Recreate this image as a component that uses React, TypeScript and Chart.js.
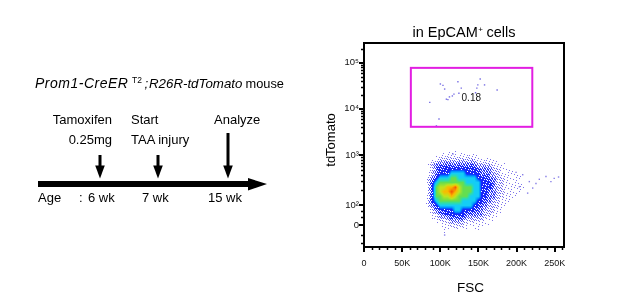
import React, { useEffect, useRef } from 'react';
import { Chart, registerables } from 'chart.js';

Chart.register(...registerables);

const FONT = "'Liberation Sans', Arial, Helvetica, sans-serif";

// ---------------- timeline schematic ----------------
const strainParts = ['Prom1-CreER', 'T2', ';', 'R26R-tdTomato', 'mouse'];
const eventTitles = ['Tamoxifen', 'Start', 'Analyze'];
const eventSubtitles = ['0.25mg', 'TAA injury', ''];
const ageLabels = ['6 wk', '7 wk', '15 wk'];

// ---------------- flow plot axes ----------------
const plotTitle = ['in EpCAM', '+', ' cells'];
const xAxisTitle = 'FSC';
const yAxisTitle = 'tdTomato';

const fscMax = 262144;
const fscTickValues = [0, 50000, 100000, 150000, 200000, 250000];
const fscTickLabels = ['0', '50K', '100K', '150K', '200K', '250K'];
const fscMinorTicks = [10000, 20000, 30000, 40000, 60000, 70000, 80000, 90000, 110000, 120000, 130000, 140000,
  160000, 170000, 180000, 190000, 210000, 220000, 230000, 240000, 260000];

// tdTomato in display units of the biexponential scale
const tdMin = 1.0;
const tdMax = 5.43;
const tdTickValues = [1.48, 1.91, 3, 4, 5];
const tdTickLabels = ['0', '10²', '10³', '10⁴', '10⁵'];
const tdLinearMinorTicks = [1.08, 1.27, 1.65, 1.79];

// ---------------- density of the main population ----------------
const densityFscK = [80, 85, 90, 95, 100, 105, 110, 115, 120, 125, 130, 135, 140, 145, 150, 155, 160, 165,
  170, 175, 180, 185, 190, 195, 200, 205, 210, 215, 220, 225, 230, 235, 240, 245, 250, 255];
const densityTd = [3.1, 3.0, 2.9, 2.8, 2.7, 2.6, 2.5, 2.4, 2.3, 2.2, 2.1, 2.0, 1.9, 1.8, 1.7, 1.6, 1.5, 1.4, 1.3];
// level 0 (empty) .. 9 (highest density), one char per FSC bin
const densityRows = [
  '000000111000000000000000000000000000',
  '000111111111111001000000000000000000',
  '001122222222221111100000000000000000',
  '012333333333332222111100000000000000',
  '012344444444443333221110000000000000',
  '012344455554444333221111100000000000',
  '023455566555554443322111110000000000',
  '024566666665555444322111110000000000',
  '024677889766655444322111111000000000',
  '024678898766655443322111110000000000',
  '024667787666555443322111100000000000',
  '024566666655554433221110000000000000',
  '023455555555544332221100000000000000',
  '012344445544443322211000000000000000',
  '001233444443333322110000000000000000',
  '001122233332222211100000000000000000',
  '000011122221111111000000000000000000',
  '000001111111011000000000000000000000',
  '000001000000000000000000000000000000',
];

// individual sparse events (FSC in K, tdTomato display units)
const gateEventsFscK = [100.1, 103.5, 105.7, 108.0, 115.8, 117.9, 123.1, 124.4, 127.5, 146.2, 147.9, 149.2,
  152.3, 158.0, 174.5, 86.2, 98.3, 94.9, 110.0, 112.0];
const gateEventsTd = [4.54, 4.51, 4.43, 4.21, 4.28, 4.32, 4.59, 4.34, 4.45, 4.35, 4.45, 4.52,
  4.65, 4.52, 4.41, 4.14, 3.78, 3.63, 4.20, 4.26];
const tailEventsFscK = [208.0, 216.7, 225.4, 229.8, 238.5, 245.0, 249.3, 255.0, 221.1, 214.5, 203.7, 199.3, 116.6, 105.7];
const tailEventsTd = [2.57, 2.42, 2.38, 2.47, 2.53, 2.42, 2.49, 2.52, 2.28, 2.17, 2.31, 2.62, 3.02, 1.26];

// gate
const gateFsc = [61400, 220600];
const gateTd = [3.61, 4.89];
const gateFrequency = '0.18';
const gateLabelFsc = 140600;
const gateLabelTd = 4.22;

// ---------------- rendering helpers ----------------
const SOLID = 4.2;
const colorStops: [number, number[]][] = [
  [SOLID, [10, 50, 255]], [4.6, [0, 150, 255]], [5.0, [20, 205, 245]],
  [5.6, [50, 222, 160]], [6.0, [100, 222, 80]], [7.0, [190, 228, 30]], [8.0, [250, 185, 0]], [9.0, [245, 80, 5]],
];
const fillStops: [number, number][] = [[0, 0], [0.5, 0], [1, 0.1], [2, 0.3], [3, 0.55], [SOLID, 0.9]];

function lerp(a: number, b: number, t: number) { return a + (b - a) * t; }

function colorFor(L: number): number[] {
  if (L <= colorStops[0][0]) return colorStops[0][1];
  for (let i = 0; i < colorStops.length - 1; i++) {
    const [a, ca] = colorStops[i];
    const [b, cb] = colorStops[i + 1];
    if (L <= b) {
      const t = (L - a) / (b - a);
      return [lerp(ca[0], cb[0], t), lerp(ca[1], cb[1], t), lerp(ca[2], cb[2], t)];
    }
  }
  return colorStops[colorStops.length - 1][1];
}

function fillFor(L: number): number {
  for (let i = 0; i < fillStops.length - 1; i++) {
    const [a, fa] = fillStops[i];
    const [b, fb] = fillStops[i + 1];
    if (L <= b) return lerp(fa, fb, (L - a) / (b - a));
  }
  return 1;
}

function fracIndex(pos: number[], p: number): number | null {
  for (let i = 0; i < pos.length - 1; i++) {
    const a = pos[i], b = pos[i + 1];
    if (p >= Math.min(a, b) && p <= Math.max(a, b)) return i + (p - a) / (b - a);
  }
  return null;
}

function drawDensity(chart: any) {
  const { ctx, scales } = chart;
  const xs: number[] = densityFscK.map((k) => scales.x.getPixelForValue(k * 1000));
  const ys: number[] = densityTd.map((v) => scales.y.getPixelForValue(v));
  const grid = densityRows.map((r) => r.split('').map(Number));
  const x0 = Math.floor(Math.min(...xs)), x1 = Math.ceil(Math.max(...xs));
  const y0 = Math.floor(Math.min(...ys)), y1 = Math.ceil(Math.max(...ys));
  const w = x1 - x0 + 1, h = y1 - y0 + 1;
  const off = document.createElement('canvas');
  off.width = w; off.height = h;
  const octx = off.getContext('2d')!;
  const img = octx.createImageData(w, h);
  for (let py = 0; py < h; py++) {
    const fr = fracIndex(ys, y0 + py + 0.5);
    if (fr === null) continue;
    const r0 = Math.floor(fr), r1 = Math.min(r0 + 1, ys.length - 1), tr = fr - r0;
    for (let px = 0; px < w; px++) {
      const fc = fracIndex(xs, x0 + px + 0.5);
      if (fc === null) continue;
      const c0 = Math.floor(fc), c1 = Math.min(c0 + 1, xs.length - 1), tc = fc - c0;
      const L = lerp(lerp(grid[r0][c0], grid[r0][c1], tc), lerp(grid[r1][c0], grid[r1][c1], tc), tr);
      if (L < 0.5) continue;
      const idx = (py * w + px) * 4;
      let col: number[];
      if (L < SOLID) {
        // ordered (interleaved-gradient) dithering turns low density into sparse dots
        const X = x0 + px, Y = y0 + py;
        const n = (52.9829189 * ((0.06711056 * X + 0.00583715 * Y) % 1)) % 1;
        if (n >= fillFor(L)) continue;
        const t = Math.max(0, Math.min(1, (L - 1.5) / 1.8));
        col = [lerp(125, 25, t), lerp(115, 40, t), lerp(235, 250, t)];
      } else {
        col = colorFor(L);
      }
      img.data[idx] = col[0]; img.data[idx + 1] = col[1]; img.data[idx + 2] = col[2]; img.data[idx + 3] = 255;
    }
  }
  octx.putImageData(img, 0, 0);
  ctx.drawImage(off, x0, y0);
}

const flowPlugin = {
  id: 'flowDecor',
  beforeDatasetsDraw(chart: any) {
    const { ctx, chartArea } = chart;
    ctx.save();
    ctx.beginPath();
    ctx.rect(chartArea.left, chartArea.top, chartArea.right - chartArea.left, chartArea.bottom - chartArea.top);
    ctx.clip();
    drawDensity(chart);
    ctx.restore();
  },
  afterDatasetsDraw(chart: any) {
    const { ctx, chartArea, scales } = chart;
    const { x, y } = scales;
    ctx.save();
    // gate
    const gl = x.getPixelForValue(gateFsc[0]), gr = x.getPixelForValue(gateFsc[1]);
    const gt = y.getPixelForValue(gateTd[1]), gb = y.getPixelForValue(gateTd[0]);
    ctx.strokeStyle = '#e21ee2';
    ctx.lineWidth = 2;
    ctx.strokeRect(gl, gt, gr - gl, gb - gt);
    ctx.fillStyle = '#111';
    ctx.font = `10px ${FONT}`;
    ctx.textAlign = 'center';
    ctx.textBaseline = 'middle';
    ctx.fillText(gateFrequency, x.getPixelForValue(gateLabelFsc), y.getPixelForValue(gateLabelTd));

    // frame
    ctx.strokeStyle = '#000';
    ctx.lineWidth = 2;
    ctx.strokeRect(chartArea.left, chartArea.top, chartArea.right - chartArea.left, chartArea.bottom - chartArea.top);

    // tick marks
    ctx.lineCap = 'butt';
    const tickX = (v: number, len: number, lw: number) => {
      const p = Math.round(x.getPixelForValue(v)) + (lw % 2 ? 0.5 : 0);
      ctx.lineWidth = lw;
      ctx.beginPath(); ctx.moveTo(p, chartArea.bottom); ctx.lineTo(p, chartArea.bottom + len); ctx.stroke();
    };
    const tickY = (v: number, len: number, lw: number) => {
      const p = Math.round(y.getPixelForValue(v)) + (lw % 2 ? 0.5 : 0);
      ctx.lineWidth = lw;
      ctx.beginPath(); ctx.moveTo(chartArea.left, p); ctx.lineTo(chartArea.left - len, p); ctx.stroke();
    };
    fscTickValues.forEach((v) => tickX(v, 5, 2));
    fscMinorTicks.forEach((v) => tickX(v, 3, 1.5));
    tdTickValues.forEach((v) => tickY(v, 5, 2));
    tdLinearMinorTicks.forEach((v) => tickY(v, 3, 1.5));
    for (let d = 1; d < tdTickValues.length; d++) {
      const a = tdTickValues[d];
      const b = d + 1 < tdTickValues.length ? tdTickValues[d + 1] : a + (tdTickValues[d] - tdTickValues[d - 1]);
      for (let k = 2; k <= 9; k++) {
        const v = a + Math.log10(k) * (b - a);
        if (v < tdMax) tickY(v, 3, 1.5);
      }
    }

    // titles
    ctx.fillStyle = '#000';
    ctx.textBaseline = 'alphabetic';
    ctx.font = `14.5px ${FONT}`;
    const w1 = ctx.measureText(plotTitle[0]).width;
    const w3 = ctx.measureText(plotTitle[2]).width;
    ctx.font = `8px ${FONT}`;
    const w2 = ctx.measureText(plotTitle[1]).width;
    const cx = (chartArea.left + chartArea.right) / 2;
    const sx = cx - (w1 + w2 + w3) / 2;
    ctx.textAlign = 'left';
    ctx.font = `14.5px ${FONT}`;
    ctx.fillText(plotTitle[0], sx, 37);
    ctx.font = `8px ${FONT}`;
    ctx.fillText(plotTitle[1], sx + w1 + 0.5, 32);
    ctx.font = `14.5px ${FONT}`;
    ctx.fillText(plotTitle[2], sx + w1 + w2, 37);

    ctx.font = `13.5px ${FONT}`;
    ctx.textAlign = 'center';
    ctx.fillText(xAxisTitle, cx + 6.5, 292);

    ctx.save();
    ctx.translate(335, 140);
    ctx.rotate(-Math.PI / 2);
    ctx.font = `13px ${FONT}`;
    ctx.textAlign = 'center';
    ctx.fillText(yAxisTitle, 0, 0);
    ctx.restore();

    ctx.restore();
  },
};

function Timeline() {
  const textProps = { fontFamily: FONT, fontSize: 13, fill: '#000' } as any;
  const downArrow = (x: number, top: number, key: string) => (
    <g key={key}>
      <rect x={x - 1.5} y={top} width={3} height={167 - top} fill="#000" />
      <polygon points={`${x - 4.8},165.5 ${x + 4.8},165.5 ${x},178.5`} fill="#000" />
    </g>
  );
  return (
    <svg width={617} height={305} style={{ position: 'absolute', left: 0, top: 0, pointerEvents: 'none' }}>
      <text x={35} y={88} {...textProps} fontSize={14} letterSpacing={0.5} fontStyle="italic">{strainParts[0]}</text>
      <text x={132} y={83} {...textProps} fontSize={8.5}>{strainParts[1]}</text>
      <text x={144.5} y={88} {...textProps} fontSize={13.3} fontStyle="italic">{strainParts[2]}</text>
      <text x={149} y={88} {...textProps} fontSize={13.3} fontStyle="italic">{strainParts[3]}</text>
      <text x={245.5} y={88} {...textProps} fontSize={12.8}>{strainParts[4]}</text>

      <text x={112} y={124} textAnchor="end" {...textProps}>{eventTitles[0]}</text>
      <text x={112} y={144} textAnchor="end" {...textProps}>{eventSubtitles[0]}</text>
      <text x={131} y={124} {...textProps}>{eventTitles[1]}</text>
      <text x={131} y={144} {...textProps}>{eventSubtitles[1]}</text>
      <text x={214} y={124} {...textProps}>{eventTitles[2]}</text>

      {downArrow(100, 155, 'a1')}
      {downArrow(158, 155, 'a2')}
      {downArrow(228, 133, 'a3')}

      <rect x={38} y={181} width={212} height={6} fill="#000" />
      <polygon points="248,178 267,184 248,190.5" fill="#000" />

      <text x={38} y={202} {...textProps}>Age</text>
      <text x={79} y={202} {...textProps}>:</text>
      <text x={88} y={202} {...textProps}>{ageLabels[0]}</text>
      <text x={142} y={202} {...textProps}>{ageLabels[1]}</text>
      <text x={208} y={202} {...textProps}>{ageLabels[2]}</text>
    </svg>
  );
}

export default function App() {
  const ref = useRef<HTMLCanvasElement>(null);
  useEffect(() => {
    const canvas = ref.current;
    if (!canvas) return;
    const events = gateEventsFscK.map((k, i) => ({ x: k * 1000, y: gateEventsTd[i] }));
    const tail = tailEventsFscK.map((k, i) => ({ x: k * 1000, y: tailEventsTd[i] }));
    const chart = new Chart(canvas, {
      type: 'scatter',
      data: {
        datasets: [
          { data: events, pointStyle: 'rect', pointRadius: 1, backgroundColor: 'rgba(105,95,225,0.9)', borderWidth: 0 },
          { data: tail, pointStyle: 'rect', pointRadius: 1, backgroundColor: 'rgba(105,95,225,0.8)', borderWidth: 0 },
        ],
      },
      options: {
        animation: false,
        responsive: false,
        devicePixelRatio: 1,
        events: [],
        layout: { padding: { left: 324, top: 43, right: 53, bottom: 28 } },
        plugins: { legend: { display: false }, tooltip: { enabled: false }, title: { display: false } },
        scales: {
          x: {
            type: 'linear',
            min: 0,
            max: fscMax,
            grid: { display: false, drawTicks: false },
            border: { display: false },
            afterBuildTicks: (s: any) => { s.ticks = fscTickValues.map((v) => ({ value: v })); },
            afterFit: (s: any) => { s.height = 30; },
            ticks: {
              padding: 11,
              autoSkip: false,
              maxRotation: 0,
              color: '#111',
              font: { family: FONT, size: 9 },
              callback: (_v: any, i: number) => fscTickLabels[i],
            },
          },
          y: {
            type: 'linear',
            min: tdMin,
            max: tdMax,
            grid: { display: false, drawTicks: false },
            border: { display: false },
            afterBuildTicks: (s: any) => { s.ticks = tdTickValues.map((v) => ({ value: v })); },
            afterFit: (s: any) => { s.width = 40; },
            ticks: {
              padding: 5,
              autoSkip: false,
              color: '#111',
              font: { family: FONT, size: 9.5 },
              callback: (_v: any, i: number) => tdTickLabels[i],
            },
          },
        },
      } as any,
      plugins: [flowPlugin],
    });
    return () => chart.destroy();
  }, []);

  return (
    <div style={{ position: 'absolute', left: 0, top: 0, width: 617, height: 305, background: '#fff', overflow: 'hidden' }}>
      <canvas ref={ref} width={617} height={305} style={{ position: 'absolute', left: 0, top: 0, width: 617, height: 305 }} />
      <Timeline />
    </div>
  );
}
